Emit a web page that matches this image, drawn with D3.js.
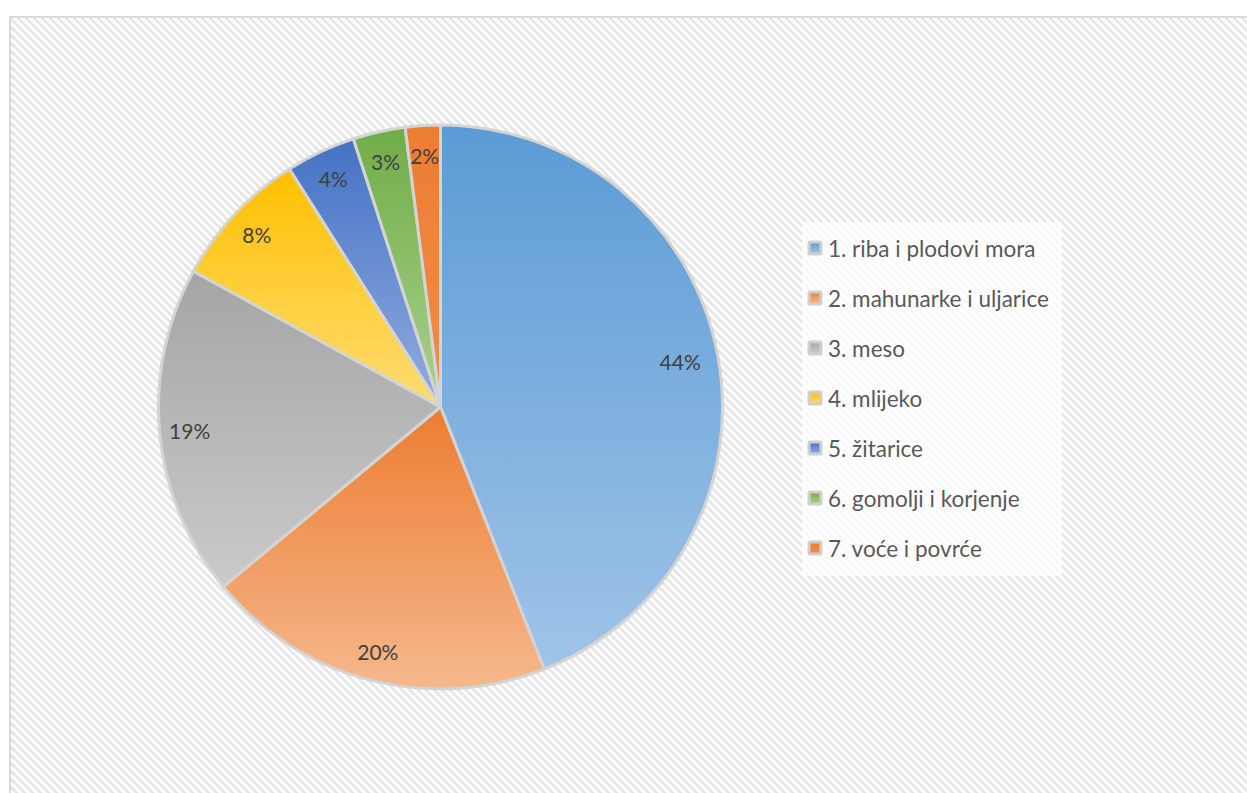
<!DOCTYPE html>
<html>
<head>
<meta charset="utf-8">
<script src="https://cdn.jsdelivr.net/npm/d3@7"></script>
<style>
  body { margin: 0; background: #fff; }
  text { font-family: Lato, "Liberation Sans", sans-serif; }
</style>
</head>
<body>
<div class="chart"></div>
<script>
// DATA ------------------------------
const categories = ["1. riba i plodovi mora", "2. mahunarke i uljarice", "3. meso",
  "4. mlijeko", "5. žitarice", "6. gomolji i korjenje", "7. voće i povrće"];
const values = [44, 20, 19, 8, 4, 3, 2];
const labels = ["44%", "20%", "19%", "8%", "4%", "3%", "2%"];
// gradient top / bottom colour for each slice
const colorTop = ["#5b9bd5", "#ed7d31", "#a5a5a5", "#ffc000", "#4472c4", "#70ad47", "#ed7d31"];
const colorBottom = ["#a0c4e8", "#f5b88d", "#cacaca", "#ffdc73", "#93acdf", "#a9d18e", "#f08d4c"];

const W = 1247, H = 793;
const cx = 440.5, cy = 407, R = 282;

const svg = d3.select(".chart")
  .append("svg")
  .attr("width", W)
  .attr("height", H);

const defs = svg.append("defs");

// diagonal hatch for chart area
const pat = defs.append("pattern")
  .attr("id", "hatch")
  .attr("patternUnits", "userSpaceOnUse")
  .attr("width", 8)
  .attr("height", 8);
pat.append("rect").attr("width", 8).attr("height", 8).attr("fill", "#ffffff");
pat.append("path")
  .attr("d", "M-2,-2 L10,10 M-2,6 L2,10 M6,-2 L10,2")
  .attr("stroke", "#e6e6e6")
  .attr("stroke-width", 2.8);

// one vertical gradient per slice
values.forEach((v, i) => {
  const g = defs.append("linearGradient")
    .attr("id", "grad" + i)
    .attr("x1", 0).attr("y1", 0).attr("x2", 0).attr("y2", 1);
  g.append("stop").attr("offset", "0%").attr("stop-color", colorTop[i]);
  g.append("stop").attr("offset", "100%").attr("stop-color", colorBottom[i]);
});

// chart area
svg.append("rect")
  .attr("x", 10).attr("y", 17)
  .attr("width", W + 20).attr("height", H + 20)
  .attr("fill", "url(#hatch)")
  .attr("stroke", "#d9d9d9")
  .attr("stroke-width", 2);

// PIE ------------------------------
const pie = d3.pie().sort(null).value(d => d);
const arcs = pie(values);
const arc = d3.arc().innerRadius(0).outerRadius(R);
const labelArc = d3.arc().innerRadius(252).outerRadius(252);

const g = svg.append("g").attr("transform", `translate(${cx},${cy})`);

g.selectAll(".slice")
  .data(arcs)
  .enter()
  .append("path")
  .attr("class", "slice")
  .attr("d", arc)
  .attr("fill", (d, i) => `url(#grad${i})`)
  .attr("stroke", "#d4d4d4")
  .attr("stroke-width", 3)
  .attr("stroke-linejoin", "round");

g.selectAll(".lbl")
  .data(arcs)
  .enter()
  .append("text")
  .attr("class", "lbl")
  .attr("transform", (d, i) => {
    let c = labelArc.centroid(d);
    if (i == 0) c = d3.arc().innerRadius(244).outerRadius(244).centroid(d);
    return `translate(${c[0]},${c[1]})`;
  })
  .attr("text-anchor", "middle")
  .attr("dominant-baseline", "central")
  .attr("fill", "#404040")
  .attr("font-size", 21)
  .text((d, i) => labels[i]);

// LEGEND ------------------------------
const lg = svg.append("g").attr("transform", "translate(802,222)");
lg.append("rect")
  .attr("width", 260).attr("height", 354)
  .attr("fill", "#ffffff")
  .attr("opacity", 0.8);

const yLeg = d3.scalePoint()
  .domain(categories)
  .range([26, 326]);

const items = lg.selectAll(".item")
  .data(categories)
  .enter()
  .append("g")
  .attr("class", "item")
  .attr("transform", d => `translate(0,${yLeg(d)})`);

items.append("rect")
  .attr("x", 7).attr("y", -6)
  .attr("width", 12).attr("height", 12)
  .attr("rx", 1)
  .attr("fill", (d, i) => `url(#grad${i})`)
  .attr("stroke", "#cfcfcf")
  .attr("stroke-width", 3);

items.append("text")
  .attr("x", 26)
  .attr("dominant-baseline", "central")
  .attr("fill", "#595959")
  .attr("font-size", 22.5)
  .text(d => d);
</script>
</body>
</html>
